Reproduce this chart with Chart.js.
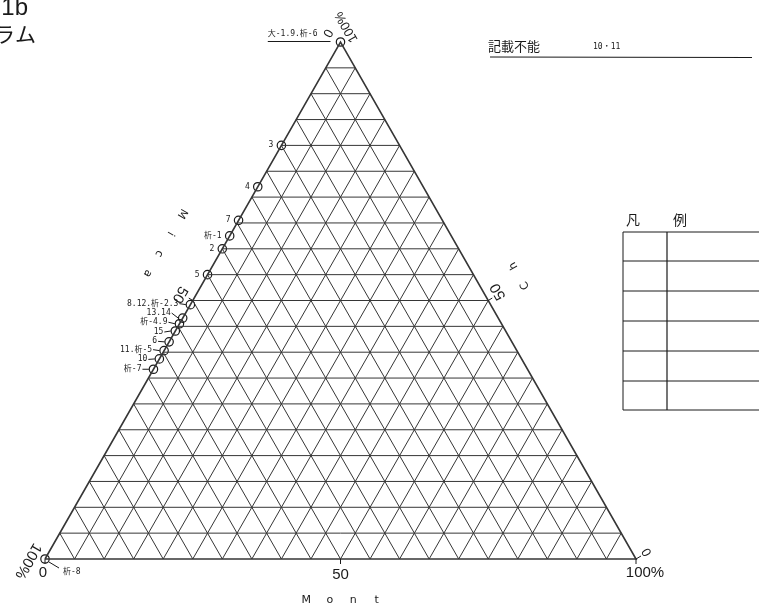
<!DOCTYPE html>
<html>
<head>
<meta charset="utf-8">
<script src="https://cdn.jsdelivr.net/npm/chart.js@4.4.0/dist/chart.umd.min.js"></script>
<style>
    html, body { margin: 0; padding: 0; background: #fff; }
    canvas { display: block; }
</style>
</head>
<body>
<canvas id="ternary" width="759" height="615"></canvas>
<script>
var sampleLabels = ['大-1.9.析-6', '3', '4', '7', '析-1', '2', '5', '8.12.析-2.3', '13.14', '析-4.9', '15', '6', '11.析-5', '10', '析-7', '析-8'];
var micaValues = [0, 20, 28, 34.5, 37.5, 40, 45, 50.8, 53.4, 54.5, 55.9, 58, 59.7, 61.3, 63.3, 100];
var montValues = [0, 0, 0, 0, 0, 0, 0, 0, 0, 0, 0, 0, 0, 0, 0, 0];

// grid every 5 %
var gridTicks = [5, 10, 15, 20, 25, 30, 35, 40, 45, 50, 55, 60, 65, 70, 75, 80, 85, 90, 95];
var axisNames = ['Mont', 'Mica', 'Ch'];

// how each sample label is attached to its point (layout only)
var labelKind = ['top', 'plain', 'plain', 'plain', 'plain', 'plain', 'plain', 'dash', 'dash', 'dash', 'dash', 'dash', 'dash', 'dash', 'dash', 'foot'];
// vertical nudge (px) of crowded labels away from their points
var labelShift = [0, 0, 0, 0, 0, 0, 0, -1, -5, -1.5, 1, -0.5, -1, 0.5, 0, 0];

var LINE = '#363636';
var INK = '#1a1a1a';
var CJK = "'Noto Sans CJK JP'";

// Mica vertex bottom-left, Mont vertex bottom-right, Ch vertex on top
var toXY = function (mont, mica) {
    var chl = 100 - mont - mica;
    return { x: mont + chl / 2, y: chl };
};

var lineSet = function (points, width) {
    return {
        type: 'scatter',
        data: points,
        showLine: true,
        borderColor: LINE,
        borderWidth: width,
        pointRadius: 0,
        fill: false,
        clip: false
    };
};

var datasets = [];
gridTicks.forEach(function (t) {
    datasets.push(lineSet([toXY(0, 100 - t), toXY(100 - t, 0)], 1));   // constant Ch
    datasets.push(lineSet([toXY(t, 100 - t), toXY(t, 0)], 1));         // constant Mont
    datasets.push(lineSet([toXY(0, t), toXY(100 - t, t)], 1));         // constant Mica
});
datasets.push(lineSet([toXY(0, 100), toXY(100, 0), toXY(0, 0), toXY(0, 100)], 1.6));

datasets.push({
    type: 'scatter',
    label: 'samples',
    data: micaValues.map(function (m, i) { return toXY(montValues[i], m); }),
    pointRadius: 4.2,
    pointBorderWidth: 1.2,
    pointBorderColor: INK,
    pointBackgroundColor: 'rgba(0,0,0,0)',
    showLine: false,
    clip: false
});

var textAt = function (ctx, text, x, y, deg, font, gap, align) {
    ctx.save();
    ctx.translate(x, y);
    ctx.rotate(deg * Math.PI / 180);
    ctx.font = font;
    ctx.fillStyle = INK;
    ctx.textBaseline = 'middle';
    if (gap) {
        ctx.textAlign = 'center';
        var chars = Array.from(text);
        var start = -(chars.length - 1) * gap / 2;
        chars.forEach(function (c, i) { ctx.fillText(c, start + i * gap, 0); });
    } else {
        ctx.textAlign = align || 'center';
        ctx.fillText(text, 0, 0);
    }
    ctx.restore();
};

var segment = function (ctx, x1, y1, x2, y2, w) {
    ctx.beginPath();
    ctx.moveTo(x1, y1);
    ctx.lineTo(x2, y2);
    ctx.lineWidth = w || 1;
    ctx.strokeStyle = INK;
    ctx.stroke();
};

var annotations = {
    id: 'annotations',
    beforeDraw: function (chart) {
        var ctx = chart.ctx;
        ctx.save();
        ctx.fillStyle = '#fff';
        ctx.fillRect(0, 0, chart.width, chart.height);
        ctx.restore();
    },
    afterDatasetsDraw: function (chart) {
        var ctx = chart.ctx;
        var xs = chart.scales.x, ys = chart.scales.y;
        var px = function (p) { return { x: xs.getPixelForValue(p.x), y: ys.getPixelForValue(p.y) }; };

        var bl = px(toXY(0, 100)), br = px(toXY(100, 0)), top = px(toXY(0, 0));
        var baseMid = px(toXY(50, 50)), leftMid = px(toXY(0, 50)), rightMid = px(toXY(50, 0));

        var big = "15px 'Liberation Sans'";
        var mid = "13px 'Liberation Sans'";
        var name = "11px 'DejaVu Sans'";

        // axis ticks
        segment(ctx, baseMid.x, baseMid.y, baseMid.x, baseMid.y + 5);
        segment(ctx, br.x, br.y, br.x, br.y + 5);
        segment(ctx, bl.x, bl.y, bl.x, bl.y + 5);
        segment(ctx, leftMid.x, leftMid.y, leftMid.x - 4, leftMid.y - 2.5);
        segment(ctx, rightMid.x, rightMid.y, rightMid.x + 4, rightMid.y - 2.5);
        segment(ctx, br.x, br.y, br.x + 5, br.y - 3);

        // axis numbers
        textAt(ctx, '50', baseMid.x, baseMid.y + 16, 0, big);
        textAt(ctx, '0', bl.x - 2, bl.y + 14, 0, big);
        textAt(ctx, '100%', br.x + 9, br.y + 14, 0, big);
        textAt(ctx, '100%', bl.x - 17, bl.y + 2, 120, big);
        textAt(ctx, '0', br.x + 11, br.y - 7, 240, mid);
        textAt(ctx, '100%', top.x + 6, top.y - 15, 240, mid);
        textAt(ctx, '0', top.x - 13, top.y - 9, 120, mid);
        textAt(ctx, '50', leftMid.x - 13, leftMid.y - 6, 120, big);
        textAt(ctx, '50', rightMid.x + 10, rightMid.y - 9, 240, big);

        // axis names
        textAt(ctx, axisNames[0], baseMid.x + 1, baseMid.y + 41, 0, name, 23.5);
        textAt(ctx, axisNames[1], leftMid.x - 28, leftMid.y - 57, 120, name, 23);
        textAt(ctx, axisNames[2], rightMid.x + 31, rightMid.y - 25, 240, name, 23);

        // sample labels
        var small = "8px 'DejaVu Sans Mono', " + CJK;
        var meta = chart.getDatasetMeta(chart.data.datasets.length - 1);
        meta.data.forEach(function (el, i) {
            var p = { x: el.x, y: el.y };
            var kind = labelKind[i];
            var txt = sampleLabels[i];
            var ly = p.y + labelShift[i];
            if (kind === 'plain') {
                textAt(ctx, txt, p.x - 8, ly, 0, small, 0, 'right');
            } else if (kind === 'dash') {
                textAt(ctx, txt, p.x - 12, ly, 0, small, 0, 'right');
                segment(ctx, p.x - 11, ly, p.x - 4.5, p.y, 1);
            } else if (kind === 'top') {
                ctx.font = small;
                var w = ctx.measureText(txt).width;
                textAt(ctx, txt, p.x - 23, p.y - 8, 0, small, 0, 'right');
                segment(ctx, p.x - 23 - w, p.y - 0.5, p.x - 10, p.y - 0.5, 1);
            } else {
                segment(ctx, p.x + 4, p.y + 3, p.x + 14, p.y + 9, 1);
                textAt(ctx, txt, p.x + 18, p.y + 13, 0, small, 0, 'left');
            }
        });

        // header texts, partly cut at the page edge
        textAt(ctx, '1b', 28, 8, 0, "24px 'Liberation Sans'", 0, 'right');
        textAt(ctx, 'ラム', 36, 34, 0, '21px ' + CJK, 0, 'right');

        textAt(ctx, '記載不能', 488, 46, 0, '13px ' + CJK, 0, 'left');
        textAt(ctx, '10・11', 593, 47, 0, "8px 'DejaVu Sans Mono', " + CJK, 0, 'left');
        segment(ctx, 490, 57, 752, 57.5, 1.2);

        // legend frame
        textAt(ctx, '凡', 633, 220, 0, '14px ' + CJK);
        textAt(ctx, '例', 680, 220, 0, '14px ' + CJK);
        var rows = [232, 261, 291, 321, 351, 381, 410];
        rows.forEach(function (y) { segment(ctx, 623, y, 760, y, 1); });
        segment(ctx, 623, 232, 623, 410, 1);
        segment(ctx, 667, 232, 667, 410, 1.2);
    }
};

new Chart(document.getElementById('ternary'), {
    type: 'scatter',
    data: { datasets: datasets },
    options: {
        responsive: false,
        animation: false,
        layout: { padding: { left: 45, right: 123, top: 42, bottom: 56 } },
        plugins: { legend: { display: false }, tooltip: { enabled: false } },
        scales: {
            x: { type: 'linear', min: 0, max: 100, display: false },
            y: { type: 'linear', min: 0, max: 100, display: false }
        }
    },
    plugins: [annotations]
});
</script>
</body>
</html>
